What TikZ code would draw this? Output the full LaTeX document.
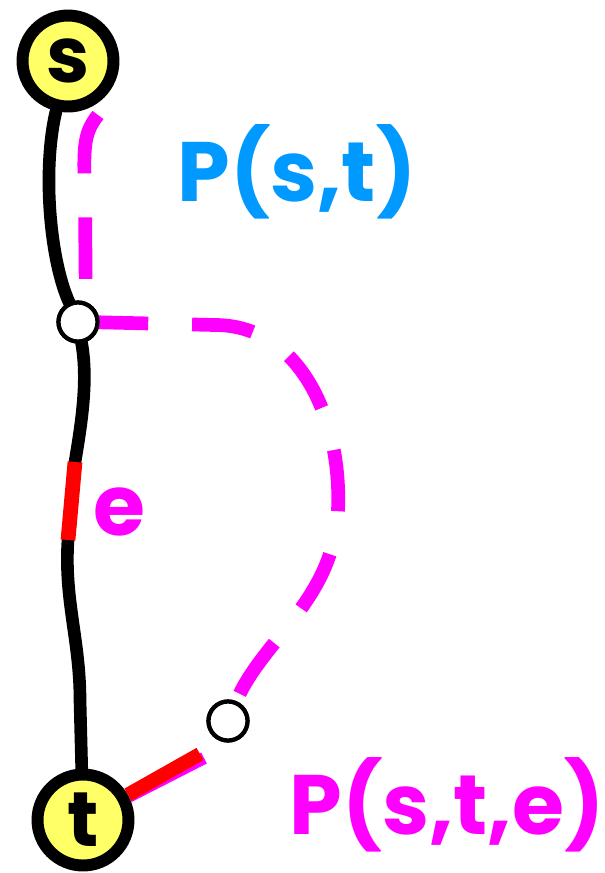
\documentclass[tikz,border=0pt]{standalone}
\usepackage{fontspec}
\setmainfont{Poppins}
\usetikzlibrary{positioning}
\definecolor{magent}{RGB}{255,0,255}
\definecolor{skyblu}{RGB}{0,153,255}
\definecolor{pale}{RGB}{255,255,102}
\tikzset{
  vert/.style={circle,draw=black,fill=pale,line width=6.8pt,minimum size=1.82cm,inner sep=0pt,
    font=\fontsize{44}{44}\selectfont\bfseries},
  hop/.style={circle,draw=black,fill=white,line width=2.4pt,minimum size=0.78cm,inner sep=0pt},
  spath/.style={line width=7.2pt,line cap=round},
  detour/.style={magent,line width=7.8pt,dash pattern=on 35pt off 25pt},
  cut/.style={red,line width=8pt},
  lbl/.style={font=\fontsize{48}{48}\selectfont\bfseries,inner sep=0pt}
}
\begin{document}
\begin{tikzpicture}[x=0.02cm,y=-0.02cm]
\useasboundingbox (0,0) rectangle (605,873);
%% vertices
\node[vert] (s) at (68,61) {s};
\node[vert] (t) at (83,820) {t};
\node[hop] (j) at (78,322) {};
\node[hop] (k) at (228,721) {};
%% points on the path
\coordinate (e1) at (75,462);
\coordinate (e2) at (68,540);
\coordinate (tip) at (200,754);
%% shortest path s--t
\draw[spath] (s) .. controls (42,170) and (50,260) .. (j);
\draw[spath] (j) .. controls (88,380) and (82,420) .. (e1) -- (e2)
  .. controls (64,600) and (80,640) .. (80,700) -- (t);
\draw[cut,line width=8.4pt] (e1) -- (e2);
%% replacement path
\draw[detour] (98,115) .. controls (82,135) and (84,150) .. (85,200) -- (86,322)
  -- (215,325) .. controls (300,325) and (342,420) .. (338,510)
  .. controls (334,600) and (262,640) .. (k);
\draw[magent,line width=7pt] ([shift={(4,4)}]t) -- ([shift={(4,4)}]tip);
\draw[cut] (t) -- (tip);
\node[hop] at (k) {};
\node[hop] at (j) {};
%% labels
\node[lbl,skyblu] (pst) at (297,172) {P(s,t)};
\node[lbl,magent] (le) at (119,512) {e};
\node[lbl,magent] (pste) at (447,805) {P(s,t,e)};
\end{tikzpicture}
\end{document}
